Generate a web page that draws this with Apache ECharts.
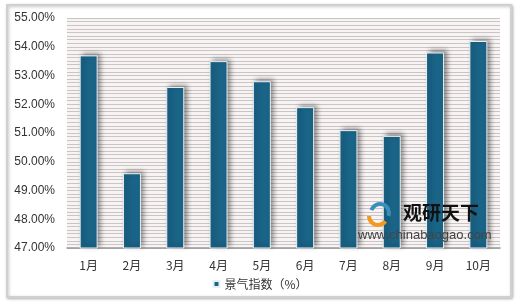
<!DOCTYPE html>
<html><head><meta charset="utf-8">
<script src="https://cdn.jsdelivr.net/npm/echarts@6/dist/echarts.min.js"></script>
<style>html,body{margin:0;padding:0;background:#fff}#c{width:520px;height:305px}</style>
</head><body><div id="c"></div>
<script>
const categories = ['1月','2月','3月','4月','5月','6月','7月','8月','9月','10月'];
const values = [53.7, 49.6, 52.6, 53.5, 52.8, 51.9, 51.1, 50.9, 53.8, 54.2];
const seriesName = '景气指数（%）';
const yMin = 47, yMax = 55, yInterval = 1;

const chart = echarts.init(document.getElementById('c'));
chart.setOption({
  animation: false,
  graphic: [
    {type:'rect', shape:{x:7,y:5,width:504,height:292}, style:{fill:'#fff', stroke:'#d0d0d0', lineWidth:2, shadowBlur:3, shadowColor:'rgba(0,0,0,0.25)', shadowOffsetX:1, shadowOffsetY:1}, z:-10},
    {type:'text', left:403, top:203, style:{text:'观研天下', fill:'#111', font:'bold 19px "Noto Sans CJK SC"'}, z:10},
    {type:'text', left:358, top:229, style:{text:'www.chinabaogao.com', fill:'#444', font:'13px "Liberation Sans"'}, z:10},
    {type:'arc', shape:{cx:380, cy:213, r:9, startAngle:-Math.PI*0.9, endAngle:Math.PI*0.1}, style:{fill:'none', stroke:'#3a8fb8', lineWidth:4}, z:10},
    {type:'arc', shape:{cx:378, cy:216, r:9, startAngle:Math.PI*0.2, endAngle:Math.PI*1.0}, style:{fill:'none', stroke:'#f39a1e', lineWidth:4}, z:10}
  ],
  grid: {left:67, right:20, top:18, bottom:57, show:true, backgroundColor:'#faf3f3', borderWidth:0},
  legend: {
    bottom: 10, left: 'center', itemWidth: 6, itemHeight: 6, itemGap: 4,
    icon: 'rect',
    textStyle: {fontSize: 12, color: '#333', fontFamily: '"Noto Sans CJK SC"'},
    data: [seriesName]
  },
  xAxis: {
    type: 'category', data: categories,
    axisLine: {lineStyle:{color:'#999', width:1.5}},
    axisTick: {show:false},
    axisLabel: {color:'#333', fontSize:12, margin:11, fontFamily:'"Noto Sans CJK SC"'}
  },
  yAxis: {
    type: 'value', min: yMin, max: yMax, interval: yInterval,
    axisLine: {show:false}, axisTick: {show:false},
    axisLabel: {color:'#333', fontSize:12, margin:12, fontFamily:'"Liberation Sans"', formatter: v => v.toFixed(2) + '%'},
    splitLine: {show:true, lineStyle:{color:'#c6c6c6', width:1}},
    minorTick: {show:false, splitNumber:8},
    minorSplitLine: {show:true, lineStyle:{color:'#c6c6c6', width:1}}
  },
  series: [{
    name: seriesName, type: 'bar', data: values, barWidth: 18,
    itemStyle: {color:'#1a6488', borderColor:'#e8f0f4', borderWidth:1,
      shadowBlur:5, shadowColor:'rgba(0,0,0,0.45)', shadowOffsetX:3, shadowOffsetY:-2}
  }]
});
</script></body></html>
